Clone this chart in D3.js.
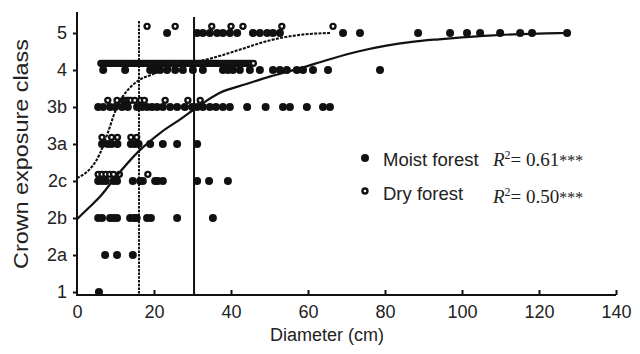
<!DOCTYPE html>
<html>
<head>
<meta charset="utf-8">
<script src="https://cdn.jsdelivr.net/npm/d3@7"></script>
<style>
  html, body { margin: 0; padding: 0; background: #fff; }
  svg { display: block; font-family: "Liberation Sans", Arial, Helvetica, sans-serif; }
</style>
</head>
<body>
<div id="chart"></div>
<script>
// crown exposure classes, bottom to top
const classes = ["1", "2a", "2b", "2c", "3a", "3b", "4", "5"];
const xTicks = [0, 20, 40, 60, 80, 100, 120, 140];

// moist forest trees: diameters (cm) per class
const moist1 = [5.7];
const moist2a = [7.3, 10.4, 14.5];
const moist2b = [5.5, 6.5, 8.6, 9.5, 10.4, 13.8, 14.8, 15.5, 18.2, 19.2, 26, 35.3];
const moist2c = [5.5, 6.5, 7.5, 9.5, 10.4, 14.5, 16.4, 17.1, 20.3, 21, 22.3, 31.2, 34.3, 39.2];
const moist3a = [6.5, 8, 9, 10.5, 14, 15, 16, 19, 22.3, 26, 31.2];
const moist3b = [5.5, 6.8, 8.6, 9.9, 11.7, 13.2, 15.6, 16.9, 18.2, 19.5, 20.8, 22.3, 24.2, 26, 28, 29.9,
  31.2, 32.7, 34.5, 36.1, 37.9, 39.7, 44.2, 49, 53.5, 55.3, 59.7, 63.9, 65.7];
const moist4 = [6.8, 12.5, 19, 20.3, 21.6, 23.4, 25.5, 27.5, 30.1, 32.7, 37.9, 39.2, 40.5, 42.3, 44.9,
  47.5, 50.9, 52.7, 54.5, 57.1, 58.7, 61.3, 65.2, 78.7];
const moist5 = [23.4, 31.2, 32.7, 34.5, 36.4, 37.9, 39.7, 41.6, 45.7, 47.5, 49.4, 50.9, 52.7, 69.1, 73.5,
  88.6, 96.9, 101.3, 104.7, 109.9, 115.1, 118.2, 127.3];

// dry forest trees
const dry1 = [];
const dry2a = [];
const dry2b = [];
const dry2c = [5.5, 6.5, 7.5, 8.5, 9.5, 11, 18.4];
const dry3a = [6.5, 9, 10.5, 14, 15.5];
const dry3b = [8, 10.4, 12, 12.5, 13, 13.5, 14, 15, 16.5, 17.5, 22.9, 28.8, 32];
const dry4 = [6.2, 6.7, 7.2, 7.7, 8.2, 8.7, 9.2, 9.7, 10.2, 10.7, 11.2, 11.7, 12.2, 12.7, 13.2, 13.7,
  14.2, 14.7, 15.2, 15.7, 16.2, 16.7, 17.2, 17.7, 18.2, 18.7, 19.2, 19.7, 20.2, 20.7, 21.2, 21.7,
  22.2, 22.7, 23.2, 23.7, 24.2, 24.7, 25.2, 25.7, 26.2, 26.7, 27.2, 27.7, 28.2, 28.7, 29.2, 29.7,
  30.2, 30.7, 31.2, 31.7, 32.2, 32.7, 33.2, 33.7, 34.2, 34.7, 35.2, 35.7, 36.2, 36.7, 37.2, 37.7,
  38.2, 38.7, 39.2, 39.7, 40.2, 40.7, 41.2, 41.7, 42.2, 42.7, 43.2, 43.7, 44.2, 44.7, 45.2, 45.8];
const dry5 = [18.2, 25.5, 35, 40, 43.1, 53.2, 66.5];

// fitted curves (class position vs diameter)
const moistCurveD = [0, 3, 6, 10, 16, 22, 27, 31, 37, 44, 50, 58, 65, 73, 80, 87, 94, 100, 107, 115, 122, 127];
const moistCurveY = [1.97, 2.27, 2.58, 3.1, 3.8, 4.33, 4.68, 4.98, 5.38, 5.62, 5.82, 6.05, 6.27, 6.5, 6.65,
  6.76, 6.83, 6.88, 6.93, 6.97, 6.99, 7.0];
const dryCurveD = [0, 2, 4, 6, 8, 10, 12, 14, 16, 19, 24, 30, 35, 42, 50, 58, 66];
const dryCurveY = [3.08, 3.2, 3.4, 3.75, 4.3, 4.9, 5.3, 5.55, 5.72, 5.86, 6.05, 6.2, 6.32, 6.54, 6.8, 6.95, 7.0];

// threshold diameters
const dryThreshold = 16.1;
const moistThreshold = 30.4;

const legendLabels = ["Moist forest", "Dry forest"];
const r2Values = ["0.61", "0.50"];

const moistByClass = [moist1, moist2a, moist2b, moist2c, moist3a, moist3b, moist4, moist5];
const dryByClass = [dry1, dry2a, dry2b, dry2c, dry3a, dry3b, dry4, dry5];

const width = 640, height = 354;
const ink = "#111";

const svg = d3.select("#chart").append("svg")
  .attr("width", width)
  .attr("height", height);

const x = d3.scaleLinear().domain([0, 140]).range([77, 616]);
const y = d3.scaleLinear().domain([0, 7]).range([292, 33]);
const axisY = 295;

// axes
const xAxis = svg.append("g")
  .attr("transform", `translate(0,${axisY})`)
  .call(d3.axisBottom(x).tickValues(xTicks).tickSizeInner(-5).tickSizeOuter(0).tickPadding(10));
xAxis.select(".domain").remove();
xAxis.selectAll(".tick line").attr("stroke", ink).attr("stroke-width", 2)
  .filter(d => d === 0).remove();
xAxis.selectAll("text").attr("font-size", 18).attr("fill", "#222")
  .attr("font-family", "'Liberation Sans', Arial, sans-serif");

const yAxis = svg.append("g")
  .attr("transform", `translate(77,0)`)
  .call(d3.axisLeft(y).tickValues(d3.range(classes.length)).tickFormat(i => classes[i])
    .tickSizeInner(4).tickSizeOuter(0).tickPadding(6));
yAxis.select(".domain").remove();
yAxis.selectAll(".tick line").attr("stroke", ink).attr("stroke-width", 2);
yAxis.selectAll("text").attr("font-size", 18).attr("fill", "#222")
  .attr("font-family", "'Liberation Sans', Arial, sans-serif");

svg.append("line")
  .attr("x1", 77).attr("x2", 77).attr("y1", 12).attr("y2", axisY + 1)
  .attr("stroke", ink).attr("stroke-width", 2);
svg.append("line")
  .attr("x1", 76).attr("x2", x(140)).attr("y1", axisY).attr("y2", axisY)
  .attr("stroke", ink).attr("stroke-width", 2);

// threshold lines
svg.append("line")
  .attr("x1", x(dryThreshold)).attr("x2", x(dryThreshold))
  .attr("y1", 21).attr("y2", axisY)
  .attr("stroke", ink).attr("stroke-width", 2).attr("stroke-dasharray", "2.5,1.2");
svg.append("line")
  .attr("x1", x(moistThreshold)).attr("x2", x(moistThreshold))
  .attr("y1", 17).attr("y2", axisY)
  .attr("stroke", ink).attr("stroke-width", 2);

// points
const moistPts = moistByClass.flatMap((ds, i) => ds.map(d => ({ d, c: i })));
const dryPts = dryByClass.flatMap((ds, i) => ds.map(d => ({ d, c: i })));
const dryOffset = 0.18;

svg.append("g").selectAll("circle")
  .data(moistPts)
  .enter()
  .append("circle")
  .attr("cx", p => x(p.d))
  .attr("cy", p => y(p.c))
  .attr("r", 4)
  .attr("fill", ink);

svg.append("g").selectAll("circle")
  .data(dryPts)
  .enter()
  .append("circle")
  .attr("cx", p => x(p.d))
  .attr("cy", p => y(p.c + dryOffset))
  .attr("r", 2.5)
  .attr("fill", "#fff")
  .attr("stroke", ink)
  .attr("stroke-width", 2.4);

// fitted curves
const line = d3.line().x(p => x(p[0])).y(p => y(p[1])).curve(d3.curveMonotoneX);
svg.append("path")
  .attr("d", line(moistCurveD.map((d, i) => [d, moistCurveY[i]])))
  .attr("fill", "none").attr("stroke", ink).attr("stroke-width", 2.2);
svg.append("path")
  .attr("d", line(dryCurveD.map((d, i) => [d, dryCurveY[i]])))
  .attr("fill", "none").attr("stroke", ink).attr("stroke-width", 2.1)
  .attr("stroke-dasharray", "3,1.3");

// axis titles
svg.append("text")
  .attr("x", 327).attr("y", 341)
  .attr("text-anchor", "middle")
  .attr("font-size", 18).attr("fill", "#222")
  .text("Diameter (cm)");
svg.append("text")
  .attr("transform", "translate(28,154) rotate(-90)")
  .attr("text-anchor", "middle")
  .attr("font-size", 20).attr("fill", "#222")
  .attr("textLength", 230).attr("lengthAdjust", "spacingAndGlyphs")
  .text("Crown exposure class");

// legend
const legendY = [158, 191];
const textY = [166, 200];
const r2Y = [166, 203];
svg.append("circle").attr("cx", 365).attr("cy", legendY[0]).attr("r", 4).attr("fill", ink);
svg.append("circle").attr("cx", 365).attr("cy", legendY[1]).attr("r", 2.5)
  .attr("fill", "#fff").attr("stroke", ink).attr("stroke-width", 2.4);

legendLabels.forEach((lab, i) => {
  svg.append("text")
    .attr("x", 383).attr("y", textY[i])
    .attr("font-size", 18.5).attr("fill", "#222")
    .text(lab);

  const t = svg.append("text")
    .attr("x", 493).attr("y", r2Y[i])
    .attr("font-family", "'Liberation Serif', 'Times New Roman', serif")
    .attr("font-size", 19).attr("fill", "#222");
  t.append("tspan").attr("font-style", "italic").text("R");
  t.append("tspan").attr("font-size", 12).attr("dy", -7).text("2");
  t.append("tspan").attr("dy", 7).text("= " + r2Values[i]);
  t.append("tspan").attr("font-size", 16).text("***");
});
</script>
</body>
</html>
